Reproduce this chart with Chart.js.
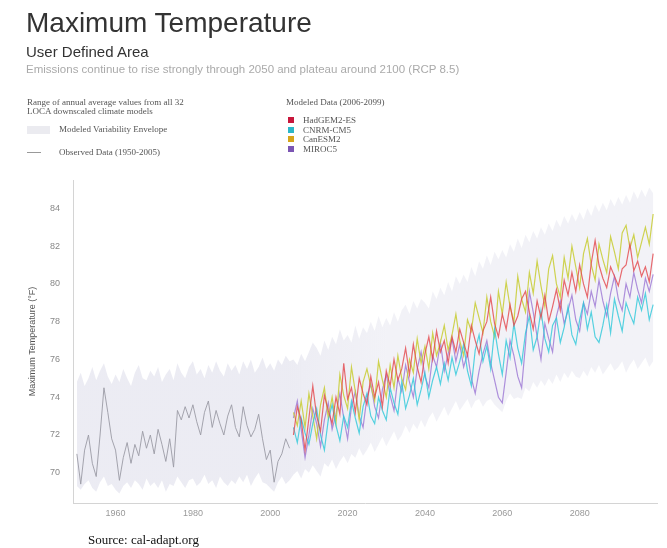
<!DOCTYPE html>
<html>
<head>
<meta charset="utf-8">
<script src="https://cdn.jsdelivr.net/npm/chart.js@4.4.1/dist/chart.umd.min.js"></script>
<style>
  body { margin: 0; background: #fff; }
  #wrap { position: relative; width: 667px; height: 548px; overflow: hidden; }
  #c { position: absolute; left: 0; top: 0; }
  .t { position: absolute; white-space: nowrap; line-height: 1; }
  .sans { font-family: 'Liberation Sans', Arial, sans-serif; }
  .serif { font-family: 'Liberation Serif', 'Times New Roman', serif; color: #555; font-size: 9px; }
  .sq { position: absolute; width: 6px; height: 6px; }
</style>
</head>
<body>
<div id="wrap">
  <canvas id="c" width="667" height="548"></canvas>

  <div class="t sans" style="left:26px; top:9px; font-size:28px; color:#333;">Maximum Temperature</div>
  <div class="t sans" style="left:26px; top:44px; font-size:15px; color:#333;">User Defined Area</div>
  <div class="t sans" style="left:26px; top:64px; font-size:11.5px; color:#aaa;">Emissions continue to rise strongly through 2050 and plateau around 2100 (RCP 8.5)</div>

  <div class="t serif" style="left:27px; top:98px;">Range of annual average values from all 32</div>
  <div class="t serif" style="left:27px; top:107px;">LOCA downscaled climate models</div>
  <div style="position:absolute; left:27px; top:126px; width:23px; height:8px; background:#ebebf0;"></div>
  <div class="t serif" style="left:59px; top:125px;">Modeled Variability Envelope</div>
  <div style="position:absolute; left:27px; top:152px; width:14px; height:1px; background:#999;"></div>
  <div class="t serif" style="left:59px; top:148px;">Observed Data (1950-2005)</div>

  <div class="t serif" style="left:286px; top:98px;">Modeled Data (2006-2099)</div>
  <div id="legend"></div>

  <div class="t serif" style="left:88px; top:533px; font-size:13px; color:#111;">Source: cal-adapt.org</div>
</div>

<script>
// observed annual max temperature 1950-2005
const obsStart = 1950;
const obsValues = [71.0, 69.4, 71.2, 72.0, 70.5, 69.8, 72.0, 74.5, 73.2, 71.8,
  71.2, 69.6, 70.8, 71.6, 70.5, 71.5, 70.9, 72.2, 71.3, 72.0,
  71.0, 72.3, 71.5, 70.6, 71.8, 70.3, 73.3, 72.8, 73.5, 72.9,
  73.6, 72.7, 72.0, 73.2, 73.8, 72.4, 73.3, 72.6, 72.0, 73.0,
  73.6, 72.4, 71.9, 73.5, 72.5, 71.9, 72.3, 73.1, 71.8, 70.7,
  71.2, 69.5, 70.6, 71.0, 71.8, 71.3];

// modeled 2006-2099
const modelStart = 2006;
const hadgem = [72.0, 73.5, 72.8, 71.2, 72.9, 74.6, 73.0, 72.2, 74.1, 73.3,
  72.6, 74.0, 73.1, 75.8, 73.9, 74.5, 73.2, 75.0, 74.2, 73.6,
  75.1, 74.0, 74.8, 73.5, 75.4, 74.6, 76.0, 74.9, 75.5, 76.6,
  75.2, 76.8, 75.6, 74.8, 76.3, 77.2, 76.0, 77.5, 76.4, 77.0,
  75.8, 77.2, 76.4, 77.6, 76.9, 76.2, 77.8, 77.0, 76.3, 77.5,
  78.0, 79.3, 77.9, 77.2, 78.4, 77.6, 78.9, 77.8, 78.3, 79.2,
  79.6, 78.5, 77.6, 79.1, 78.2, 79.4, 78.0, 78.8, 79.7, 78.6,
  80.2, 79.4, 80.6, 79.6, 81.0, 80.0, 79.3, 81.1, 82.3, 81.0,
  80.3, 79.8, 80.9, 80.4, 79.9, 80.8, 81.0, 82.1, 80.7, 81.2,
  80.4, 80.9, 80.1, 81.6];
const cnrm = [72.4, 71.6, 72.9, 72.1, 71.5, 72.6, 73.4, 72.0, 71.2, 72.8,
  73.6, 72.5, 71.7, 73.0, 72.4, 73.8, 72.9, 72.1, 73.5, 74.2,
  73.0, 72.6, 74.0, 73.3, 72.8, 74.5, 73.7, 73.1, 74.8, 73.4,
  74.1, 75.0, 73.6, 74.4, 75.3, 74.0, 74.9, 75.6, 74.7, 75.8,
  74.9, 76.1, 75.2, 75.9, 76.8, 75.4, 74.6, 76.5, 77.3, 75.9,
  76.7, 75.5, 77.6, 76.3, 75.2, 77.0, 76.1, 77.9, 76.6, 75.8,
  77.4, 78.3, 76.5, 77.2, 78.6, 77.1, 76.4, 77.8, 78.2, 76.9,
  77.7, 78.8, 77.3, 76.8, 78.1, 79.0, 77.6, 78.5, 77.2, 76.9,
  77.8, 78.9, 77.4, 79.2, 78.3, 77.5, 79.0, 78.4, 77.9, 79.3,
  78.6, 79.5, 78.1, 78.9];
const canesm = [73.2, 72.5, 73.8, 72.4, 74.2, 73.0, 71.8, 73.6, 74.5, 72.9,
  74.0, 72.6, 75.2, 74.1, 73.4, 75.6, 74.3, 72.8, 74.8, 75.5,
  74.6, 73.8, 75.9, 74.9, 74.0, 75.7, 74.5, 76.2, 75.0, 74.4,
  76.0, 75.3, 77.1, 75.8, 76.7, 75.5, 77.4, 76.2, 76.9, 77.8,
  76.5, 77.3, 78.4, 77.0, 76.2, 78.1, 77.5, 79.0, 78.2, 77.4,
  79.3, 78.0, 77.2, 79.6, 78.4, 80.1, 78.8, 78.0, 80.4, 79.2,
  78.5, 80.6, 79.5, 81.2, 79.9, 78.8, 80.8, 81.5, 80.0, 79.3,
  81.4, 80.3, 82.0, 80.9, 79.8, 81.6, 82.4, 81.0, 80.2, 82.1,
  81.3, 80.6, 82.5, 81.7, 80.8, 82.7, 83.1, 81.9, 82.6, 81.4,
  82.2, 83.0, 82.1, 83.7];
const miroc = [72.9, 73.8, 72.3, 70.8, 72.0, 73.4, 72.6, 71.4, 72.8, 73.7,
  72.3, 73.1, 74.2, 72.9, 71.8, 73.5, 74.3, 73.0, 72.4, 74.0,
  74.7, 73.5, 72.9, 74.4, 75.2, 74.1, 73.3, 75.0, 74.3, 75.7,
  74.8, 74.0, 75.5, 76.4, 75.1, 74.5, 76.2, 75.6, 76.9, 75.4,
  76.3, 77.1, 75.9, 76.8, 75.6, 76.3, 75.0, 74.2, 75.4, 76.3,
  77.0, 75.8, 74.9, 74.0, 73.7, 75.3, 77.0, 76.2, 75.1, 74.5,
  76.8, 79.6, 78.5, 77.2, 76.0, 77.9, 77.1, 76.4, 78.3, 79.1,
  77.9, 78.6, 79.4, 78.1, 77.5, 79.0, 78.4, 79.6, 78.8, 80.2,
  79.1, 78.3, 79.5, 80.4, 79.2, 78.6, 80.0, 79.3, 80.6, 79.7,
  79.0, 80.3, 79.6, 80.5];

// variability envelope (all 32 LOCA models) 1950-2099
const envStart = 1950;
const envLow = [69.3, 69.1, 69.4, 69.6, 69.2, 69.0, 69.5, 69.8, 69.3, 69.4,
  69.1, 68.9, 69.3, 69.5, 69.2, 69.6, 69.4, 69.1, 69.7, 69.3,
  69.5, 69.2, 69.6, 69.0, 69.4, 69.3, 69.8, 69.5, 69.2, 69.6,
  69.7, 69.3, 69.5, 69.9, 69.4, 69.6, 69.2, 69.8, 69.5, 69.3,
  69.6, 69.4, 69.8, 69.5, 69.9, 69.3, 69.7, 70.0, 69.5, 69.4,
  69.2, 69.0, 69.5, 69.8, 69.4, 69.6, 69.9, 70.1, 69.7, 70.2,
  70.0, 70.4, 70.1, 69.8, 70.5, 70.3, 70.7, 70.2, 70.6, 70.9,
  70.5, 71.0, 70.8, 71.3, 70.9, 71.2, 71.6, 71.1, 71.5, 71.9,
  71.4, 71.8, 72.2, 71.7, 72.0, 72.5, 72.1, 72.6, 72.3, 72.8,
  72.4, 72.9, 73.2, 72.7, 73.1, 73.5, 73.0, 73.4, 73.8, 73.3,
  73.6, 73.9, 73.4, 73.8, 73.9, 73.5, 73.8, 73.9, 73.6, 73.4,
  73.2, 73.8, 74.2, 73.9, 74.0, 73.9, 74.5, 74.3, 74.8, 74.5,
  74.9, 74.6, 75.0, 74.7, 75.2, 74.8, 75.3, 75.0, 75.4, 75.1,
  75.0, 75.4, 75.1, 75.6, 75.3, 75.7, 75.2, 75.5, 75.8, 75.4,
  75.6, 75.9, 75.3, 75.7, 76.0, 75.5, 75.8, 76.1, 75.6, 75.9];
const envHigh = [74.8, 75.3, 74.6, 75.0, 75.6, 74.9, 75.4, 75.8, 75.1, 74.7,
  75.2, 74.8, 75.5, 75.0, 74.6, 75.3, 75.7, 75.0, 74.9, 75.4,
  75.1, 75.6, 74.8, 75.2, 75.5, 74.9, 75.8, 75.3, 75.0, 75.6,
  75.9, 75.2, 75.5, 75.0, 75.7, 75.3, 75.9, 75.4, 75.1, 75.8,
  75.4, 75.7, 75.2, 75.9, 75.5, 76.0, 75.3, 75.6, 76.1, 75.5,
  75.8, 75.4, 76.0, 75.7, 76.2, 75.9, 76.0, 75.7, 76.3, 75.9,
  76.4, 76.9, 76.6, 76.2, 77.0, 76.5, 77.2, 76.8, 77.6, 77.0,
  77.3, 76.9, 77.8, 77.1, 77.7, 77.4, 78.0, 77.5, 78.3, 77.7,
  78.2, 77.8, 78.5, 78.0, 78.6, 78.9, 78.4, 79.1, 78.7, 79.2,
  79.0, 78.7, 79.6, 79.2, 79.8, 79.4, 80.1, 79.6, 80.4, 80.0,
  80.5, 80.1, 80.9, 80.4, 81.2, 80.8, 81.5, 81.0, 81.7, 81.3,
  81.8, 81.4, 82.1, 81.7, 82.4, 81.9, 82.6, 82.2, 82.8, 82.4,
  83.0, 82.6, 83.2, 82.8, 83.4, 83.0, 83.6, 83.2, 83.7, 83.3,
  83.8, 83.4, 84.0, 83.6, 84.2, 83.8, 84.3, 83.9, 84.5, 84.1,
  84.6, 84.2, 84.7, 84.3, 84.9, 84.5, 85.0, 84.6, 85.1, 84.8];

const xTicks = [1960, 1980, 2000, 2020, 2040, 2060, 2080];
const yTicks = [70, 72, 74, 76, 78, 80, 82, 84];

const models = [
  { name: 'HadGEM2-ES', data: hadgem, line: 'rgba(228, 70, 75, 0.8)', swatch: '#c8173c' },
  { name: 'CNRM-CM5', data: cnrm, line: 'rgba(45, 200, 218, 0.8)', swatch: '#2bb7c9' },
  { name: 'CanESM2', data: canesm, line: 'rgba(200, 205, 50, 0.85)', swatch: '#d6a51a' },
  { name: 'MIROC5', data: miroc, line: 'rgba(150, 110, 210, 0.75)', swatch: '#7b55b3' }
];

function toPoints(start, values) {
  return values.map((v, i) => ({ x: start + i, y: v }));
}

// legend swatches
const leg = document.getElementById('legend');
models.forEach((m, i) => {
  const top = 117 + i * 9.5;
  leg.innerHTML += '<div class="sq" style="left:288px; top:' + top + 'px; background:' + m.swatch + ';"></div>' +
    '<div class="t serif" style="left:303px; top:' + (top - 1) + 'px;">' + m.name + '</div>';
});

Chart.defaults.font.family = "'Liberation Sans', Arial, sans-serif";

// envelope is a bit lighter over the projection period
function envelopeFill(context) {
  const chart = context.chart;
  const area = chart.chartArea;
  if (!area) return 'rgba(224, 224, 236, 0.6)';
  const xs = chart.scales.x;
  const x0 = xs.getPixelForValue(2004);
  const x1 = xs.getPixelForValue(2030);
  const g = chart.ctx.createLinearGradient(x0, 0, x1, 0);
  g.addColorStop(0, 'rgba(224, 224, 236, 0.62)');
  g.addColorStop(1, 'rgba(224, 224, 236, 0.42)');
  return g;
}

const datasets = models.map((m) => ({
  label: m.name,
  data: toPoints(modelStart, m.data),
  borderColor: m.line,
  borderWidth: 1.2,
  pointRadius: 0,
  fill: false,
  order: 1
}));
datasets.push({
  label: 'Observed',
  data: toPoints(obsStart, obsValues),
  borderColor: 'rgba(155, 155, 165, 0.9)',
  borderWidth: 1,
  pointRadius: 0,
  fill: false,
  order: 5
});
datasets.push({
  label: 'envLow',
  data: toPoints(envStart, envLow),
  borderColor: 'rgba(0,0,0,0)',
  borderWidth: 0,
  pointRadius: 0,
  fill: false,
  order: 10
});
datasets.push({
  label: 'envHigh',
  data: toPoints(envStart, envHigh),
  borderColor: 'rgba(0,0,0,0)',
  borderWidth: 0,
  pointRadius: 0,
  backgroundColor: envelopeFill,
  fill: '-1',
  order: 10
});

new Chart(document.getElementById('c').getContext('2d'), {
  type: 'line',
  data: { datasets: datasets },
  options: {
    responsive: false,
    animation: false,
    layout: { padding: { top: 180, right: 10, left: 0, bottom: 0 } },
    plugins: { legend: { display: false }, tooltip: { enabled: false } },
    elements: { line: { tension: 0 } },
    scales: {
      x: {
        type: 'linear',
        min: 1949,
        max: 2100,
        grid: { display: false, drawTicks: false },
        border: { display: true, color: '#d4d4d4' },
        afterFit: (s) => { s.height = 45; },
        afterBuildTicks: (s) => { s.ticks = xTicks.map(v => ({ value: v })); },
        ticks: { color: '#999', font: { size: 9 }, padding: 5, maxRotation: 0, callback: (v) => String(v) }
      },
      y: {
        min: 68.4,
        max: 85.5,
        grid: { display: false, drawTicks: false },
        border: { display: true, color: '#d4d4d4' },
        afterFit: (s) => { s.width = 73; },
        afterBuildTicks: (s) => { s.ticks = yTicks.map(v => ({ value: v })); },
        ticks: { color: '#888', font: { size: 9 }, padding: 13, callback: (v) => String(v) },
        title: { display: true, text: 'Maximum Temperature (°F)', color: '#555', font: { size: 9 }, padding: { top: 27, bottom: 0 } }
      }
    }
  }
});
</script>
</body>
</html>
